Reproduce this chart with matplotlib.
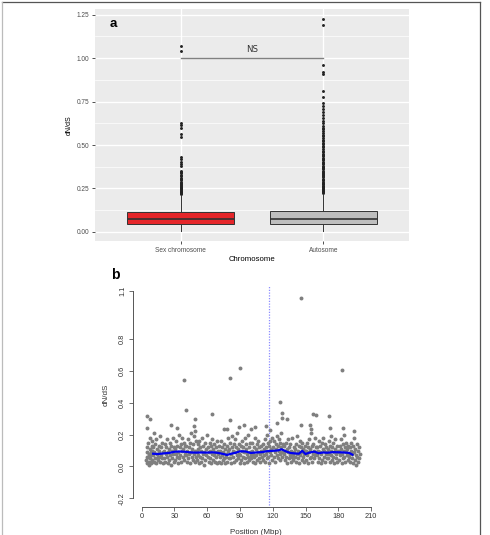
import matplotlib
matplotlib.use("Agg")
import matplotlib.pyplot as plt
from matplotlib.lines import Line2D

plt.rcParams['font.family'] = ['Liberation Sans', 'DejaVu Sans']

# ---- panel a: dN/dS by chromosome type (box summaries)
groups = ['Sex chromosome', 'Autosome']
box_colors = ['#e5262a', '#bebebe']
q1 = [0.044, 0.044]
med = [0.075, 0.075]
q3 = [0.113, 0.118]
whis_lo = [0.004, 0.003]
whis_hi = [0.205, 0.215]
sex_fliers = [0.218, 0.222, 0.228, 0.232, 0.236, 0.241, 0.245, 0.250, 0.254, 0.259,
              0.264, 0.270, 0.275, 0.281, 0.290, 0.297, 0.305, 0.312, 0.320, 0.330,
              0.338, 0.345, 0.352, 0.380, 0.392, 0.405, 0.418, 0.433, 0.548, 0.563,
              0.600, 0.615, 0.628, 1.039, 1.069]
auto_fliers = [0.224, 0.228, 0.233, 0.237, 0.242, 0.246, 0.251, 0.256, 0.262, 0.267,
               0.273, 0.278, 0.284, 0.290, 0.296, 0.301, 0.307, 0.314, 0.320, 0.327,
               0.333, 0.340, 0.346, 0.353, 0.360, 0.367, 0.374, 0.381, 0.388, 0.396,
               0.403, 0.411, 0.419, 0.427, 0.435, 0.443, 0.451, 0.460, 0.468, 0.477,
               0.486, 0.495, 0.504, 0.513, 0.522, 0.531, 0.541, 0.550, 0.560, 0.570,
               0.580, 0.590, 0.600, 0.612, 0.624, 0.636, 0.655, 0.672, 0.688, 0.705,
               0.722, 0.741, 0.778, 0.812, 0.910, 0.922, 0.960, 1.188, 1.224]
ns_level = 1.0

# ---- panel b: dN/dS along chromosome position (Mbp)
pos = [
    4.2, 4.6, 5.0, 5.3, 5.7, 6.1, 6.4, 6.8, 7.2, 7.5, 7.9, 8.3, 8.6, 9.0, 9.3, 9.7, 4.8, 6.6, 8.1, 9.5,
    10.2, 10.7, 11.1, 11.6, 12.0, 12.5, 12.9, 13.4, 13.8, 14.3, 14.7, 15.2, 15.6, 16.1, 16.5, 17.0, 17.4, 17.9, 18.3, 18.8, 19.2, 19.7, 11.3, 15.9,
    20.3, 20.8, 21.2, 21.7, 22.1, 22.6, 23.0, 23.5, 23.9, 24.4, 24.8, 25.3, 25.7, 26.2, 26.6, 27.1, 27.5, 28.0, 28.4, 28.9, 29.3, 29.8,
    30.2, 30.7, 31.1, 31.6, 32.0, 32.5, 32.9, 33.4, 33.8, 34.3, 34.7, 35.2, 35.6, 36.1, 36.5, 37.0, 37.4, 37.9, 38.3, 38.8, 39.2, 39.7,
    40.3, 40.8, 41.2, 41.7, 42.1, 42.6, 43.0, 43.5, 43.9, 44.4, 44.8, 45.3, 45.7, 46.2, 46.6, 47.1, 47.5, 48.0, 48.4, 48.9, 49.3, 49.8,
    50.2, 50.7, 51.1, 51.6, 52.0, 52.5, 52.9, 53.4, 53.8, 54.3, 54.7, 55.2, 55.6, 56.1, 56.5, 57.0, 57.4, 57.9, 58.3, 58.8, 59.2, 59.7,
    60.3, 60.8, 61.2, 61.7, 62.1, 62.6, 63.0, 63.5, 63.9, 64.4, 64.8, 65.3, 65.7, 66.2, 66.6, 67.1, 67.5, 68.0, 68.4, 68.9, 69.3, 69.8,
    70.2, 70.7, 71.1, 71.6, 72.0, 72.5, 72.9, 73.4, 73.8, 74.3, 74.7, 75.2, 75.6, 76.1, 76.5, 77.0, 77.4, 77.9, 78.3, 78.8, 79.2, 79.7,
    80.3, 80.8, 81.2, 81.7, 82.1, 82.6, 83.0, 83.5, 83.9, 84.4, 84.8, 85.3, 85.7, 86.2, 86.6, 87.1, 87.5, 88.0, 88.4, 88.9, 89.3, 89.8,
    90.2, 90.7, 91.1, 91.6, 92.0, 92.5, 92.9, 93.4, 93.8, 94.3, 94.7, 95.2, 95.6, 96.1, 96.5, 97.0, 97.4, 97.9, 98.3, 98.8, 99.2, 99.7,
    100.3, 100.8, 101.2, 101.7, 102.1, 102.6, 103.0, 103.5, 103.9, 104.4, 104.8, 105.3, 105.7, 106.2, 106.6, 107.1, 107.5, 108.0, 108.4, 108.9, 109.3, 109.8,
    110.2, 110.7, 111.1, 111.6, 112.0, 112.5, 112.9, 113.4, 113.8, 114.3, 114.7, 115.2, 115.6, 116.1, 116.5, 117.0, 117.4, 117.9, 118.3, 118.8, 119.2, 119.7,
    120.3, 120.8, 121.2, 121.7, 122.1, 122.6, 123.0, 123.5, 123.9, 124.4, 124.8, 125.3, 125.7, 126.2, 126.6, 127.1, 127.5, 128.0, 128.4, 128.9, 129.3, 129.8,
    130.2, 130.7, 131.1, 131.6, 132.0, 132.5, 132.9, 133.4, 133.8, 134.3, 134.7, 135.2, 135.6, 136.1, 136.5, 137.0, 137.4, 137.9, 138.3, 138.8, 139.2, 139.7,
    140.3, 140.8, 141.2, 141.7, 142.1, 142.6, 143.0, 143.5, 143.9, 144.4, 144.8, 145.3, 145.7, 146.2, 146.6, 147.1, 147.5, 148.0, 148.4, 148.9, 149.3, 149.8,
    150.2, 150.7, 151.1, 151.6, 152.0, 152.5, 152.9, 153.4, 153.8, 154.3, 154.7, 155.2, 155.6, 156.1, 156.5, 157.0, 157.4, 157.9, 158.3, 158.8, 159.2, 159.7,
    160.3, 160.8, 161.2, 161.7, 162.1, 162.6, 163.0, 163.5, 163.9, 164.4, 164.8, 165.3, 165.7, 166.2, 166.6, 167.1, 167.5, 168.0, 168.4, 168.9, 169.3, 169.8,
    170.2, 170.7, 171.1, 171.6, 172.0, 172.5, 172.9, 173.4, 173.8, 174.3, 174.7, 175.2, 175.6, 176.1, 176.5, 177.0, 177.4, 177.9, 178.3, 178.8, 179.2, 179.7,
    180.3, 180.8, 181.2, 181.7, 182.1, 182.6, 183.0, 183.5, 183.9, 184.4, 184.8, 185.3, 185.7, 186.2, 186.6, 187.1, 187.5, 188.0, 188.4, 188.9, 189.3, 189.8,
    190.2, 190.7, 191.1, 191.6, 192.0, 192.5, 192.9, 193.4, 193.8, 194.3, 194.7, 195.2, 195.6, 196.1, 196.5, 197.0, 197.4, 197.9, 198.3, 198.8, 199.2, 199.7,
]
dnds = [
    .04, .09, .02, .12, .06, .15, .03, .08, .11, .05, .18, .02, .07, .13, .04, .10, .06, .01, .09, .16,
    .07, .12, .03, .09, .14, .05, .17, .02, .08, .11, .06, .04, .13, .10, .03, .19, .07, .12, .05, .15, .09, .02, .21, .06,
    .05, .10, .14, .03, .08, .12, .06, .17, .02, .09, .11, .04, .15, .07, .13, .01, .10, .05, .18, .08, .12, .03,
    .11, .04, .08, .16, .06, .13, .02, .09, .20, .05, .12, .07, .14, .03, .10, .18, .06, .11, .04, .15, .08, .13,
    .07, .13, .03, .10, .17, .05, .12, .08, .02, .15, .09, .21, .06, .11, .04, .14, .08, .19, .03, .10, .06, .16,
    .09, .04, .14, .07, .11, .02, .16, .06, .12, .03, .10, .18, .05, .08, .13, .01, .09, .15, .04, .11, .07, .20,
    .06, .12, .03, .09, .15, .05, .10, .02, .13, .08, .17, .04, .11, .07, .14, .03, .09, .12, .06, .16, .02, .10,
    .08, .03, .13, .06, .10, .16, .02, .07, .12, .04, .09, .14, .05, .11, .02, .08, .06, .13, .03, .10, .18, .05,
    .11, .05, .15, .08, .02, .12, .19, .06, .10, .03, .14, .09, .17, .04, .12, .07, .21, .05, .11, .08, .14, .02,
    .07, .13, .04, .10, .16, .06, .12, .02, .09, .18, .05, .11, .14, .03, .08, .20, .06, .12, .04, .09, .15, .07,
    .05, .10, .15, .03, .08, .12, .06, .18, .02, .11, .07, .14, .04, .09, .16, .05, .12, .08, .03, .13, .10, .06,
    .09, .14, .04, .11, .07, .17, .03, .12, .08, .20, .05, .10, .15, .06, .13, .02, .09, .16, .07, .11, .04, .18,
    .12, .06, .16, .09, .03, .14, .11, .19, .07, .13, .05, .10, .17, .08, .15, .04, .12, .21, .09, .06, .14, .10,
    .08, .13, .04, .10, .15, .06, .11, .02, .09, .17, .05, .12, .07, .14, .03, .10, .06, .18, .08, .04, .12, .09,
    .06, .11, .03, .14, .08, .19, .05, .10, .02, .13, .07, .16, .09, .12, .04, .15, .06, .11, .08, .03, .10, .13,
    .10, .04, .15, .07, .12, .02, .09, .17, .05, .11, .21, .06, .13, .03, .08, .14, .10, .05, .18, .07, .12, .09,
    .07, .12, .03, .10, .16, .05, .09, .13, .02, .08, .15, .04, .11, .18, .06, .10, .03, .14, .08, .12, .05, .09,
    .05, .11, .16, .08, .03, .13, .07, .19, .10, .04, .12, .06, .15, .09, .02, .11, .17, .05, .08, .13, .03, .10,
    .09, .04, .13, .07, .17, .11, .02, .08, .14, .05, .10, .20, .06, .12, .03, .09, .15, .07, .11, .04, .13, .08,
    .06, .12, .03, .10, .15, .05, .08, .13, .02, .09, .18, .04, .11, .07, .01, .14, .06, .10, .03, .12, .05, .08,
]
# points sticking out above the main cloud
high_pos = [4.6, 7.6, 5.2, 26.8, 32.6, 40.8, 49.0, 48.0, 49.0, 64.0, 75.0, 78.3, 80.8, 89.0,
            93.6, 99.7, 104.0, 114.0, 117.7, 126.8, 128.7, 128.4, 124.0, 133.0, 145.7, 154.0,
            154.6, 156.7, 160.0, 171.6, 172.0, 184.5, 194.5,
            39.0, 80.8, 90.0, 183.0, 145.5]
high_dnds = [0.315, 0.300, 0.244, 0.260, 0.244, 0.356, 0.298, 0.256, 0.220, 0.327, 0.233, 0.235,
             0.290, 0.248, 0.260, 0.235, 0.248, 0.252, 0.230, 0.404, 0.335, 0.306, 0.273, 0.298,
             0.260, 0.262, 0.233, 0.327, 0.323, 0.315, 0.240, 0.244, 0.225,
             0.540, 0.556, 0.617, 0.604, 1.058]
smooth_pos = [10.5, 15, 20, 25, 30, 35, 40, 45, 50, 55, 60, 65, 70, 75, 78, 82, 86, 90, 95, 100,
              105, 110, 115, 120, 125, 128, 132, 136, 140, 144, 147, 150, 154, 158, 162, 166,
              170, 175, 180, 185, 190, 193]
smooth_val = [.080, .078, .082, .085, .092, .094, .092, .088, .087, .088, .087, .089, .085, .078,
              .072, .080, .086, .095, .094, .085, .088, .090, .096, .098, .101, .108, .095, .085,
              .082, .080, .098, .078, .088, .093, .083, .088, .086, .090, .089, .088, .085, .074]
centromere = 116.5
x_ticks = [0, 30, 60, 90, 120, 150, 180, 210]
y_ticks_b = [-0.2, 0.0, 0.2, 0.4, 0.6, 0.8, 1.1]

W, H = 490, 535
fig = plt.figure(figsize=(W / 100, H / 100), dpi=100)


def frac(x0, y0, x1, y1):
    # pixel box (top-left origin) -> figure fraction rect
    return [x0 / W, 1 - y1 / H, (x1 - x0) / W, (y1 - y0) / H]


# ---------------- panel a
ax = fig.add_axes(frac(95, 9, 409, 241))
ax.set_facecolor('#ebebeb')

stats = []
fl = [sex_fliers, auto_fliers]
for i in range(2):
    stats.append(dict(med=med[i], q1=q1[i], q3=q3[i], whislo=whis_lo[i],
                      whishi=whis_hi[i], fliers=fl[i], label=groups[i]))
bp = ax.bxp(stats, positions=[1, 2], widths=0.75, showcaps=False, patch_artist=True,
            boxprops=dict(edgecolor='#333333', linewidth=0.7),
            whiskerprops=dict(color='#333333', linewidth=0.7),
            medianprops=dict(color='#333333', linewidth=1.2),
            flierprops=dict(marker='o', markersize=2.1, markerfacecolor='#222222',
                            markeredgecolor='none'))
for patch, c in zip(bp['boxes'], box_colors):
    patch.set_facecolor(c)

ax.set_xlim(0.4, 2.6)
ax.set_ylim(-0.052, 1.282)
ax.set_yticks([0, 0.25, 0.5, 0.75, 1.0, 1.25])
ax.set_yticks([0.125, 0.375, 0.625, 0.875, 1.125], minor=True)
ax.set_yticklabels(['0.00', '0.25', '0.50', '0.75', '1.00', '1.25'])
ax.set_xticks([1, 2])
ax.set_xticklabels(groups)
ax.grid(True, which='major', color='white', lw=1.0)
ax.grid(True, which='minor', axis='y', color='white', lw=0.5)
ax.set_axisbelow(True)
for s in ax.spines.values():
    s.set_visible(False)
ax.tick_params(which='major', length=2.5, width=0.6, color='#333333', labelsize=4.7,
               labelcolor='#4d4d4d', pad=1.5)
ax.tick_params(which='minor', length=0)

ax.plot([1, 2], [ns_level, ns_level], color='#808080', lw=1.0)
ax.text(1.5, ns_level + 0.025, 'NS', ha='center', va='bottom', fontsize=6.2,
        color='#333333', family=['DejaVu Sans'])
ax.text(0.048, 0.935, 'a', transform=ax.transAxes, fontsize=9.5, fontweight='bold',
        ha='left', va='center')
ax.set_ylabel('dN/dS', fontsize=5, labelpad=3)
ax.set_xlabel('Chromosome', fontsize=5.6, labelpad=1.5)

# ---------------- panel b
bx = fig.add_axes(frac(141.7, 291.3, 141.7 + 210 * 1.092, 498.3))
bx.set_xlim(0, 210)
bx.set_ylim(-0.2, 1.1)
bx.set_facecolor('none')
bx.scatter(pos, dnds, s=8, color='#7f7f7f', linewidths=0, zorder=2)
bx.scatter(high_pos, high_dnds, s=8, color='#7f7f7f', linewidths=0, zorder=2)
bx.plot(smooth_pos, smooth_val, color='#0000ee', lw=1.6, zorder=3)
bx.plot([centromere, centromere], [-0.245, 1.14], color='#8c8cff', lw=0.9,
        linestyle=(0, (1, 1.2)), clip_on=False, zorder=1)

for side in ['top', 'right']:
    bx.spines[side].set_visible(False)
bx.spines['left'].set_position(('outward', 6.5))
bx.spines['bottom'].set_position(('outward', 6))
bx.spines['left'].set_bounds(-0.2, 1.1)
bx.spines['bottom'].set_bounds(0, 210)
for side in ['left', 'bottom']:
    bx.spines[side].set_color('#555555')
    bx.spines[side].set_linewidth(0.7)
bx.set_xticks(x_ticks)
bx.set_yticks(y_ticks_b)
bx.set_yticklabels(['-0.2', '0.0', '0.2', '0.4', '0.6', '0.8', '1.1'], rotation=90,
                   va='center')
bx.tick_params(length=2.8, width=0.6, color='#555555', labelsize=5.3,
               labelcolor='#333333', pad=2)
bx.set_xlabel('Position (Mbp)', fontsize=5.8, color='#333333', labelpad=6)
bx.set_ylabel('dN/dS', fontsize=5.8, color='#333333', labelpad=7)
fig.text(110.7 / W, 1 - 275 / H, 'b', fontsize=10, fontweight='bold', ha='left',
         va='center')

# ---------------- outer frame of the figure panel
fig.add_artist(Line2D([1.5 / W, 480 / W], [1 - 2 / H, 1 - 2 / H],
                      transform=fig.transFigure, color='#555555', lw=0.9))
fig.add_artist(Line2D([480 / W, 480 / W], [1 - 2 / H, 0],
                      transform=fig.transFigure, color='#555555', lw=0.9))
fig.add_artist(Line2D([1.5 / W, 1.5 / W], [1 - 2 / H, 0],
                      transform=fig.transFigure, color='#bbbbbb', lw=0.9))

fig.savefig('out.png', dpi=100)
